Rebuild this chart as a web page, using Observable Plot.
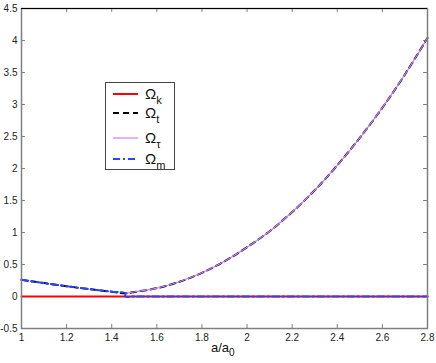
<!DOCTYPE html>
<html><head><meta charset="utf-8">
<script src="https://cdn.jsdelivr.net/npm/d3@7"></script>
<script src="https://cdn.jsdelivr.net/npm/@observablehq/plot@0.6"></script>
<style>
body{margin:0;background:#fff;font-family:"Liberation Sans",Arial,sans-serif;}
#wrap{position:relative;width:436px;height:363px;}
#legend{position:absolute;left:105px;top:82px;}
#xlabel{position:absolute;left:211px;top:340px;font-size:13px;color:#111;}
#xlabel sub{font-size:10px;vertical-align:-4px;}
</style>
</head><body>
<div id="wrap"></div>
<script>
// scale ranges and ticks
const xDomain = [1, 2.8];
const yDomain = [-0.5, 4.5];
const xTicks = [1, 1.2, 1.4, 1.6, 1.8, 2, 2.2, 2.4, 2.6, 2.8];
const yTicks = [-0.5, 0, 0.5, 1, 1.5, 2, 2.5, 3, 3.5, 4, 4.5];

// a/a0 before the minimum, and the Omega values there
const aLow = [1.0, 1.1, 1.2, 1.3, 1.4, 1.46];
const omegaLow = [0.26, 0.21, 0.16, 0.115, 0.075, 0.05];
// a/a0 after the minimum, and the Omega values there
const aHigh = [1.46, 1.5, 1.6, 1.7, 1.8, 1.9, 2.0, 2.1, 2.2, 2.3, 2.4, 2.5, 2.6, 2.7, 2.8];
const omegaHigh = [0.05, 0.07, 0.13, 0.23, 0.37, 0.55, 0.77, 1.02, 1.32, 1.66, 2.05, 2.48, 2.95, 3.47, 4.04];

const seriesNames = ["Ω_k", "Ω_t", "Ω_τ", "Ω_m"];
const seriesColors = ["#ff0000", "#000000", "#cc80ff", "#2a45ff"];

const allA = aLow.concat(aHigh.slice(1));
const omegaK = allA.map(a => ({a, v: 0}));
const omegaT = aLow.map((a, i) => ({a, v: omegaLow[i]})).concat(aHigh.slice(1).map((a, i) => ({a, v: omegaHigh[i + 1]})));
const omegaTau = aHigh.map((a, i) => ({a, v: omegaHigh[i]}));
const omegaM = aLow.map((a, i) => ({a, v: omegaLow[i]})).concat(aHigh.map(a => ({a, v: 0})));

const W = 436, H = 363;
const mL = 21, mR = 9, mT = 8, mB = 35;
const plotW = W - mL - mR, plotH = H - mT - mB;
const fmt = d => d3.format("~g")(d).replace("\u2212", "-");
const axisGrey = "#7f7f7f";

const chart = Plot.plot({
  width: W, height: H,
  marginLeft: mL, marginRight: mR, marginTop: mT, marginBottom: mB,
  style: {fontFamily: "'Liberation Sans', Arial, sans-serif", fontSize: "10px", color: "#222", background: "#fff", overflow: "visible"},
  x: {domain: xDomain, axis: null},
  y: {domain: yDomain, axis: null},
  marks: [
    // tick labels
    Plot.axisX(xTicks, {anchor: "bottom", tickSize: 0, tickPadding: 5, tickFormat: fmt, label: null, fontSize: 10, fill: "#222"}),
    Plot.axisY(yTicks, {anchor: "left", tickSize: 0, tickPadding: 4, tickFormat: fmt, label: null, fontSize: 10, fill: "#222"}),
    // inward ticks on all four sides
    Plot.tickX(xTicks, {x: d => d, stroke: axisGrey, insetTop: plotH - 4}),
    Plot.tickX(xTicks, {x: d => d, stroke: axisGrey, insetBottom: plotH - 4}),
    Plot.tickY(yTicks, {y: d => d, stroke: axisGrey, insetRight: plotW - 4}),
    Plot.tickY(yTicks, {y: d => d, stroke: axisGrey, insetLeft: plotW - 4}),
    // series
    Plot.line(omegaK, {x: "a", y: "v", stroke: seriesColors[0], strokeWidth: 2}),
    Plot.line(omegaT, {x: "a", y: "v", stroke: seriesColors[1], strokeWidth: 2, strokeDasharray: "6,4", curve: "catmull-rom"}),
    Plot.line(omegaTau, {x: "a", y: "v", stroke: seriesColors[2], strokeWidth: 1.2, curve: "catmull-rom"}),
    Plot.line(omegaM, {x: "a", y: "v", stroke: seriesColors[3], strokeWidth: 2, strokeDasharray: "7,3,2,3", curve: "catmull-rom"}),
    // box
    Plot.frame({stroke: axisGrey, strokeWidth: 1.5}),
    Plot.ruleY([yDomain[1]], {stroke: "#000", strokeWidth: 1})
  ]
});
const wrap = document.getElementById("wrap");
wrap.appendChild(chart);

// x label
const xl = document.createElement("div");
xl.id = "xlabel";
xl.innerHTML = "a/a<sub>0</sub>";
wrap.appendChild(xl);

// legend
const lineY = [12, 31, 56, 77];
const dashes = [null, "6,4", null, "7,3,2,3"];
const widths = [2, 2, 1.2, 2];
const svgNS = "http://www.w3.org/2000/svg";
const leg = document.createElementNS(svgNS, "svg");
leg.setAttribute("id", "legend");
leg.setAttribute("width", 71);
leg.setAttribute("height", 89);
let html = `<rect x="0.5" y="0.5" width="69" height="87" fill="#fff" stroke="#444" stroke-width="1"/>`;
seriesNames.forEach((name, i) => {
  const [base, sub] = name.split("_");
  const y = lineY[i];
  html += `<line x1="8" x2="33" y1="${y}" y2="${y}" stroke="${seriesColors[i]}" stroke-width="${widths[i]}" ${dashes[i] ? `stroke-dasharray="${dashes[i]}"` : ""}/>`;
  html += `<text x="40" y="${y + 5}" font-size="15" fill="#111" font-family="Liberation Sans, Arial, sans-serif">${base}<tspan font-size="11" dy="5">${sub}</tspan></text>`;
});
leg.innerHTML = html;
wrap.appendChild(leg);
</script>
</body></html>
